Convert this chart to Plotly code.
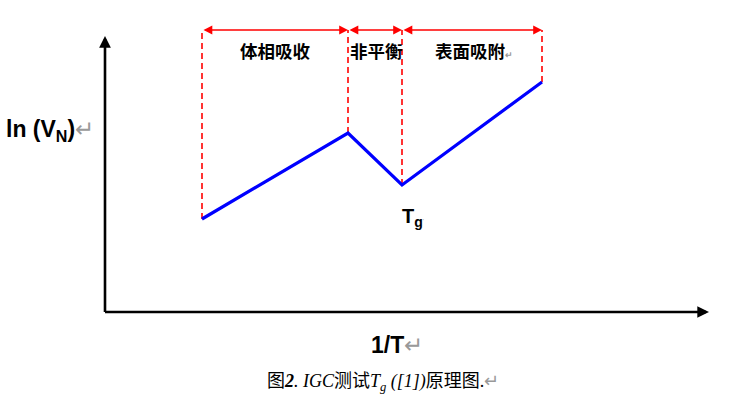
import plotly.graph_objects as go

# Data (units: chart units, origin at axis corner)
inv_T = [97, 243, 297, 437]          # 1/T positions of the break points
ln_VN = [93, 179, 127, 230]          # ln(VN) values at those points
top_level = 282                      # level of the region markers
region_labels = ["体相吸收", "非平衡", "表面吸附"]

X0, X1 = -105, 625
Y0, Y1 = -91, 312

fig = go.Figure()

# red dashed verticals
for xv, yv in zip(inv_T, ln_VN):
    fig.add_trace(go.Scatter(x=[xv, xv], y=[yv, top_level], mode="lines",
                             line=dict(color="#ff0000", width=1.6, dash="6px,4px"),
                             hoverinfo="skip", showlegend=False))

# blue curve
fig.add_trace(go.Scatter(x=inv_T, y=ln_VN, mode="lines",
                         line=dict(color="#0000ff", width=3.2),
                         hoverinfo="skip", showlegend=False))

anns = []
# axes with arrows
anns.append(dict(x=0, y=276, ax=0, ay=-1.5, xref="x", yref="y", axref="x", ayref="y",
                 showarrow=True, arrowhead=2, arrowsize=0.9, arrowwidth=2.6, arrowcolor="black", text=""))
anns.append(dict(x=604, y=0, ax=-1.5, ay=0, xref="x", yref="y", axref="x", ayref="y",
                 showarrow=True, arrowhead=2, arrowsize=0.9, arrowwidth=2.6, arrowcolor="black", text=""))

# region double arrows
for i in range(3):
    anns.append(dict(x=inv_T[i + 1], y=top_level, ax=inv_T[i], ay=top_level,
                     xref="x", yref="y", axref="x", ayref="y",
                     showarrow=True, arrowhead=2, startarrowhead=2, arrowside="end+start",
                     arrowsize=1.1, startarrowsize=1.1, arrowwidth=1.6, arrowcolor="#ff0000", text=""))

cjk = "Noto Sans CJK SC"
label_text = [region_labels[0], region_labels[1],
              region_labels[2] + "<span style='color:#999;font-size:9px'>↵</span>"]
label_x = [(inv_T[0] + inv_T[1]) / 2, (inv_T[1] + inv_T[2]) / 2 + 1, (inv_T[2] + inv_T[3]) / 2 + 2]
for t, xv in zip(label_text, label_x):
    anns.append(dict(x=xv, y=262, xref="x", yref="y", text="<b>" + t + "</b>", showarrow=False,
                     font=dict(family=cjk, size=17.5, color="black")))

# Tg label
anns.append(dict(x=308, y=95, xref="x", yref="y", showarrow=False,
                 text="<b>T<sub>g</sub></b><span style='color:#999;font-size:6px'>'</span>",
                 font=dict(family="Liberation Sans", size=20, color="black")))

# y axis label
anns.append(dict(x=0.006, y=182, xref="paper", yref="y", xanchor="left", showarrow=False,
                 text="<b>ln (V<sub>N</sub>)</b><span style='color:#999'>↵</span>",
                 font=dict(family="Liberation Sans", size=23, color="black")))

# x axis label
anns.append(dict(x=292, y=-33, xref="x", yref="y", showarrow=False,
                 text="<b>1/T</b><span style='color:#999'>↵</span>",
                 font=dict(family="Liberation Sans", size=23, color="black")))

# caption
anns.append(dict(x=278, y=-68, xref="x", yref="y", showarrow=False,
                 text=("<span style='font-family:Noto Sans CJK SC'>图</span><b><i>2</i></b><i>. IGC</i>"
                       "<span style='font-family:Noto Sans CJK SC'>测试</span><i>T<sub>g</sub> ([1])</i>"
                       "<span style='font-family:Noto Sans CJK SC'>原理图</span>.<span style='color:#999'>↵</span>"),
                 font=dict(family="Liberation Serif", size=18, color="black")))

fig.update_layout(annotations=anns)
fig.update_layout(
    width=730, height=403,
    margin=dict(l=0, r=0, t=0, b=0),
    paper_bgcolor="white", plot_bgcolor="white",
    xaxis=dict(range=[X0, X1], visible=False, fixedrange=True),
    yaxis=dict(range=[Y0, Y1], visible=False, fixedrange=True),
    showlegend=False,
)

fig.write_html("out.html", config={"displayModeBar": False},
               post_script="document.body.style.margin='0';document.body.style.overflow='hidden';")
